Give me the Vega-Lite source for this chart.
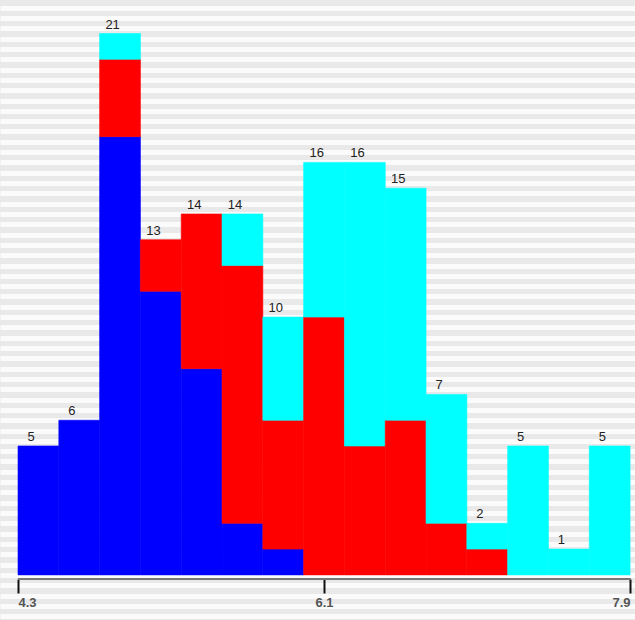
{
  "$schema": "https://vega.github.io/schema/vega-lite/v6.json",
  "width": 635,
  "height": 620,
  "autosize": "none",
  "padding": 0,
  "background": "#f4f4f4",
  "config": {
    "view": {"stroke": null, "fill": "#e9e9e9"},
    "font": "Liberation Sans"
  },
  "data": {
    "values": [
      {"bin_start": 4.3, "bin_end": 4.54, "species": "setosa", "count": 5},
      {"bin_start": 4.54, "bin_end": 4.78, "species": "setosa", "count": 6},
      {"bin_start": 4.78, "bin_end": 5.02, "species": "setosa", "count": 17},
      {"bin_start": 4.78, "bin_end": 5.02, "species": "versicolor", "count": 3},
      {"bin_start": 4.78, "bin_end": 5.02, "species": "virginica", "count": 1},
      {"bin_start": 5.02, "bin_end": 5.26, "species": "setosa", "count": 11},
      {"bin_start": 5.02, "bin_end": 5.26, "species": "versicolor", "count": 2},
      {"bin_start": 5.26, "bin_end": 5.5, "species": "setosa", "count": 8},
      {"bin_start": 5.26, "bin_end": 5.5, "species": "versicolor", "count": 6},
      {"bin_start": 5.5, "bin_end": 5.74, "species": "setosa", "count": 2},
      {"bin_start": 5.5, "bin_end": 5.74, "species": "versicolor", "count": 10},
      {"bin_start": 5.5, "bin_end": 5.74, "species": "virginica", "count": 2},
      {"bin_start": 5.74, "bin_end": 5.98, "species": "setosa", "count": 1},
      {"bin_start": 5.74, "bin_end": 5.98, "species": "versicolor", "count": 5},
      {"bin_start": 5.74, "bin_end": 5.98, "species": "virginica", "count": 4},
      {"bin_start": 5.98, "bin_end": 6.22, "species": "versicolor", "count": 10},
      {"bin_start": 5.98, "bin_end": 6.22, "species": "virginica", "count": 6},
      {"bin_start": 6.22, "bin_end": 6.46, "species": "versicolor", "count": 5},
      {"bin_start": 6.22, "bin_end": 6.46, "species": "virginica", "count": 11},
      {"bin_start": 6.46, "bin_end": 6.7, "species": "versicolor", "count": 6},
      {"bin_start": 6.46, "bin_end": 6.7, "species": "virginica", "count": 9},
      {"bin_start": 6.7, "bin_end": 6.94, "species": "versicolor", "count": 2},
      {"bin_start": 6.7, "bin_end": 6.94, "species": "virginica", "count": 5},
      {"bin_start": 6.94, "bin_end": 7.18, "species": "versicolor", "count": 1},
      {"bin_start": 6.94, "bin_end": 7.18, "species": "virginica", "count": 1},
      {"bin_start": 7.18, "bin_end": 7.42, "species": "virginica", "count": 5},
      {"bin_start": 7.42, "bin_end": 7.66, "species": "virginica", "count": 1},
      {"bin_start": 7.66, "bin_end": 7.9, "species": "virginica", "count": 5}
    ]
  },
  "layer": [
    {
      "mark": {"type": "bar", "binSpacing": 0, "strokeWidth": 0.6},
      "encoding": {
        "x": {
          "field": "bin_start",
          "type": "quantitative",
          "scale": {"domain": [4.194, 7.929], "nice": false, "zero": false, "padding": 0},
          "axis": {
            "values": [4.3, 6.1, 7.9],
            "domain": false,
            "grid": false,
            "offset": -41,
            "tickSize": 14,
            "tickWidth": 2,
            "tickColor": "#111111",
            "labelFlush": 25,
            "labelFontSize": 13,
            "labelColor": "#555555",
            "labelPadding": 3,
            "labelFontWeight": "bold",
            "title": null,
            "format": ".1f"
          }
        },
        "x2": {"field": "bin_end"},
        "y": {
          "field": "count",
          "type": "quantitative",
          "aggregate": "sum",
          "stack": "zero",
          "scale": {"domain": [-1.75, 22.3], "nice": false, "zero": false, "padding": 0},
          "axis": {
            "labels": false,
            "ticks": false,
            "domain": false,
            "title": null,
            "grid": true,
            "gridColor": "#fbfbfb",
            "gridWidth": 5,
            "gridOpacity": 1,
            "tickCount": 200,
            "values": [-1.6, -1.2, -0.8, -0.4, 0, 0.4, 0.8, 1.2, 1.6, 2, 2.4, 2.8, 3.2, 3.6, 4, 4.4, 4.8, 5.2, 5.6, 6, 6.4, 6.8, 7.2, 7.6, 8, 8.4, 8.8, 9.2, 9.6, 10, 10.4, 10.8, 11.2, 11.6, 12, 12.4, 12.8, 13.2, 13.6, 14, 14.4, 14.8, 15.2, 15.6, 16, 16.4, 16.8, 17.2, 17.6, 18, 18.4, 18.8, 19.2, 19.6, 20, 20.4, 20.8, 21.2, 21.6, 22]
          }
        },
        "color": {
          "field": "species",
          "type": "nominal",
          "scale": {"domain": ["setosa", "versicolor", "virginica"], "range": ["#0000ff", "#ff0000", "#00ffff"]},
          "legend": null
        },
        "stroke": {
          "field": "species",
          "type": "nominal",
          "scale": {"domain": ["setosa", "versicolor", "virginica"], "range": ["#0000ff", "#ff0000", "#00ffff"]},
          "legend": null
        },
        "order": {"field": "species", "sort": "ascending"}
      }
    },
    {
      "transform": [
        {"aggregate": [{"op": "sum", "field": "count", "as": "total"}], "groupby": ["bin_start", "bin_end"]}
      ],
      "mark": {"type": "text", "baseline": "bottom", "align": "center", "dx": 13, "dy": -2, "fontSize": 13, "color": "#222222"},
      "encoding": {
        "x": {"field": "bin_start", "type": "quantitative"},
        "y": {"field": "total", "type": "quantitative"},
        "text": {"field": "total", "type": "quantitative"}
      }
    },
    {
      "mark": {"type": "rule", "color": "#777777", "strokeWidth": 2},
      "encoding": {
        "x": {"datum": 4.3},
        "x2": {"datum": 7.9},
        "y": {"datum": -0.16}
      }
    }
  ]
}
